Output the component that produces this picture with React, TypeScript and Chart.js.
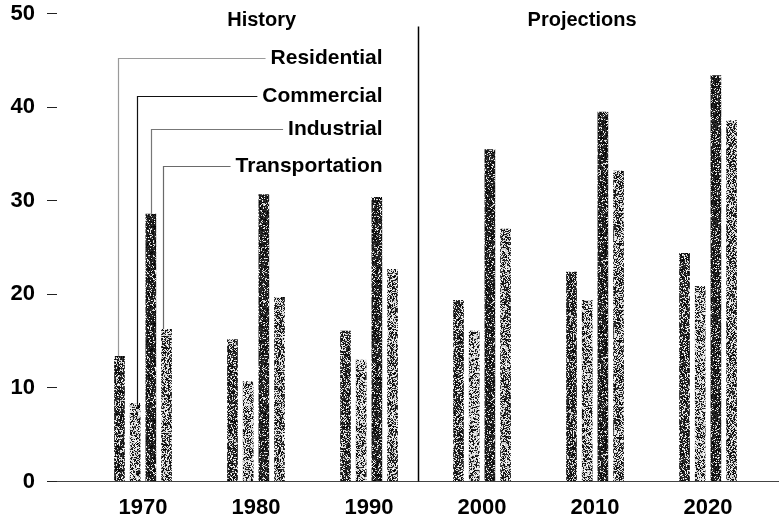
import React, { useEffect, useRef } from "react";
import { Chart, registerables } from "chart.js";

Chart.register(...registerables);

// ---- data ----
const years = [1970, 1980, 1990, 2000, 2010, 2020];
const residential = [13.4, 15.2, 16.1, 19.4, 22.4, 24.4];
const commercial = [8.4, 10.7, 13.0, 16.1, 19.4, 20.9];
const industrial = [28.6, 30.7, 30.4, 35.5, 39.5, 43.4];
const transportation = [16.3, 19.7, 22.7, 27.0, 33.2, 38.6];
const seriesNames = ["Residential", "Commercial", "Industrial", "Transportation"];
const periodLabels = ["History", "Projections"];
const yMin = 0;
const yMax = 50;
const yStep = 10;

// ---- styling / layout (not data) ----
const FONT = "'Liberation Sans', Arial, Helvetica, sans-serif";
const densities = [0.68, 0.42, 0.82, 0.5];
const leaderColors = ["#9a9a9a", "#111111", "#777777", "#6a6a6a"];
const leaderYValues = [45.2, 41.2, 37.7, 33.7];
const leaderXOffsets = [-0.15, 0.15, 0, -0.33];
const labelRightValue = 1991.2;
const titleXValues = [1980.5, 2008.85];
const titleYValue = 49.3;
const dividerXValue = 1994.3;
const dividerTopValue = 48.6;

function makePattern(density: number, seed: number): CanvasPattern | string {
  const size = 97;
  const c = document.createElement("canvas");
  c.width = size;
  c.height = size;
  const ctx = c.getContext("2d");
  if (!ctx) return "#555";
  const img = ctx.createImageData(size, size);
  let s = seed >>> 0;
  for (let i = 0; i < size * size; i++) {
    s = (Math.imul(s, 1664525) + 1013904223) >>> 0;
    const r = s / 4294967296;
    s = (Math.imul(s, 1664525) + 1013904223) >>> 0;
    const r2 = s / 4294967296;
    const v = r < density ? Math.floor(r2 * 60) : 190 + Math.floor(r2 * 65);
    img.data[i * 4] = v;
    img.data[i * 4 + 1] = v;
    img.data[i * 4 + 2] = v;
    img.data[i * 4 + 3] = 255;
  }
  ctx.putImageData(img, 0, 0);
  return ctx.createPattern(c, "repeat") || "#555";
}

const annotationPlugin = {
  id: "annotations",
  afterDatasetsDraw(chart: any) {
    const ctx = chart.ctx as CanvasRenderingContext2D;
    const xs = chart.scales.x;
    const ys = chart.scales.y;
    ctx.save();

    // period titles
    ctx.fillStyle = "#000";
    ctx.font = `bold 20px ${FONT}`;
    ctx.textAlign = "center";
    ctx.textBaseline = "middle";
    periodLabels.forEach((t, i) => {
      ctx.fillText(t, xs.getPixelForValue(titleXValues[i]), ys.getPixelForValue(titleYValue));
    });

    // divider between history and projections
    ctx.strokeStyle = "#000";
    ctx.lineWidth = 1.5;
    ctx.beginPath();
    const dx = Math.round(xs.getPixelForValue(dividerXValue)) + 0.5;
    ctx.moveTo(dx, ys.getPixelForValue(dividerTopValue));
    ctx.lineTo(dx, ys.getPixelForValue(0));
    ctx.stroke();

    // leader-line legend
    ctx.font = `bold 21px ${FONT}`;
    ctx.textAlign = "right";
    const labelRight = xs.getPixelForValue(labelRightValue);
    seriesNames.forEach((name, i) => {
      const meta = chart.getDatasetMeta(i);
      const bar = meta.data[0];
      if (!bar) return;
      const props = bar.getProps(["x", "y", "width"], true);
      const vx = Math.round(props.x + props.width * leaderXOffsets[i]) + 0.5;
      const ly = Math.round(ys.getPixelForValue(leaderYValues[i])) + 0.5;
      const tw = ctx.measureText(name).width;
      ctx.strokeStyle = leaderColors[i];
      ctx.lineWidth = 1.2;
      ctx.beginPath();
      ctx.moveTo(vx, props.y);
      ctx.lineTo(vx, ly);
      ctx.lineTo(labelRight - tw - 5, ly);
      ctx.stroke();
      ctx.fillStyle = "#000";
      ctx.fillText(name, labelRight, ly);
    });

    ctx.restore();
  },
};

export default function App() {
  const canvasRef = useRef<HTMLCanvasElement | null>(null);

  useEffect(() => {
    const canvas = canvasRef.current;
    if (!canvas) return;
    const allSeries = [residential, commercial, industrial, transportation];
    const datasets = allSeries.map((vals, i) => ({
      label: seriesNames[i],
      data: years.map((y, j) => ({ x: y, y: vals[j] })),
      backgroundColor: makePattern(densities[i], 12345 + i * 7919) as any,
      borderWidth: 0,
      categoryPercentage: 0.555,
      barPercentage: 0.68,
    }));

    const chart = new Chart(canvas, {
      type: "bar",
      data: { datasets },
      plugins: [annotationPlugin],
      options: {
        responsive: false,
        animation: false,
        devicePixelRatio: 1,
        layout: { padding: { top: 0, right: 1, left: 0, bottom: 0 } },
        plugins: {
          legend: { display: false },
          tooltip: { enabled: false },
          title: { display: false },
        },
        scales: {
          x: {
            type: "linear",
            offset: false,
            min: 1962.39,
            max: 2026.19,
            afterBuildTicks: (scale: any) => {
              scale.ticks = years.map((v) => ({ value: v }));
            },
            afterFit: (scale: any) => {
              scale.height = 41.5;
              scale.paddingLeft = 0;
              scale.paddingRight = 0;
            },
            ticks: {
              callback: (v: any) => String(v),
              color: "#000",
              font: { family: FONT, size: 22, weight: "bold" },
              padding: 13,
              maxRotation: 0,
              autoSkip: false,
            },
            grid: { display: true, offset: false, drawOnChartArea: false, drawTicks: false },
            border: { display: true, color: "#444", width: 1 },
          },
          y: {
            min: yMin,
            max: yMax,
            afterFit: (scale: any) => {
              scale.width = 57;
              scale.paddingTop = 13.5;
              scale.paddingBottom = 0;
            },
            ticks: {
              stepSize: yStep,
              color: "#000",
              font: { family: FONT, size: 22, weight: "bold" },
              padding: 12,
            },
            grid: {
              display: true,
              drawOnChartArea: false,
              drawTicks: true,
              tickLength: 10,
              color: "#222",
              lineWidth: 1,
            },
            border: { display: false },
          },
        },
      } as any,
    });

    return () => chart.destroy();
  }, []);

  return (
    <div style={{ position: "absolute", left: 0, top: 0, width: 779, height: 523, background: "#fff" }}>
      <canvas ref={canvasRef} width={779} height={523} style={{ display: "block", width: 779, height: 523 }} />
    </div>
  );
}
